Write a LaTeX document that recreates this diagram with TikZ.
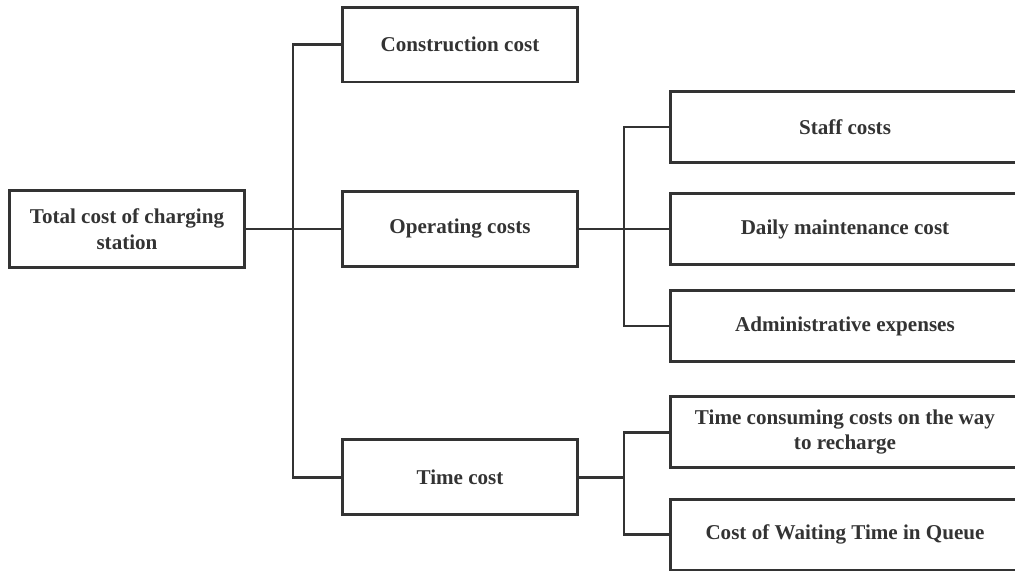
\documentclass[tikz,border=0pt]{standalone}
\usepackage{fontspec}
\setmainfont{Liberation Serif}
\usetikzlibrary{positioning}
\definecolor{ink}{HTML}{333333}

\begin{document}
\begin{tikzpicture}[x=0.02cm, y=-0.02cm,
                    main/.style = {draw=ink, line width=1.7pt, text=ink, align=center, inner sep=2pt,
                      font=\fontsize{12}{14.6}\selectfont\bfseries,
                      minimum width=4.7cm, minimum height=1.5cm},
                    leaf/.style = {main, minimum width=7cm, minimum height=1.42cm},
                    link/.style = {draw=ink, line width=1.7pt}]
    \clip (0,0) rectangle (1015,572);
    % left and middle columns
    \node[main, minimum width=4.72cm, minimum height=1.54cm] (total) at (127,229) {Total cost of charging\\station};
    \node[main] (cons) at (460,44.5)  {Construction cost};
    \node[main] (oper) at (460,229)   {Operating costs};
    \node[main] (time) at (460,477)   {Time cost};
    % right column
    \node[leaf] (staff) at (845,127)   {Staff costs};
    \node[leaf] (daily) at (845,229)   {Daily maintenance cost};
    \node[leaf] (admin) at (845,326)   {Administrative expenses};
    \node[leaf] (way)   at (845,432)   {Time consuming costs on the way\\to recharge};
    \node[leaf] (queue) at (845,534.5) {Cost of Waiting Time in Queue};
    \coordinate (b1) at (293,229);
    \coordinate (b2) at (624,229);
    \coordinate (b3) at (624,477);
    \draw[link] (total) -- (oper);
    \draw[link] (cons.west) -| (b1) |- (time.west);
    \draw[link] (oper) -- (daily);
    \draw[link] (staff.west) -| (b2) |- (admin.west);
    \draw[link] (time) -- (b3);
    \draw[link] (way.west) -| (b3) |- (queue.west);
\end{tikzpicture}
\end{document}
